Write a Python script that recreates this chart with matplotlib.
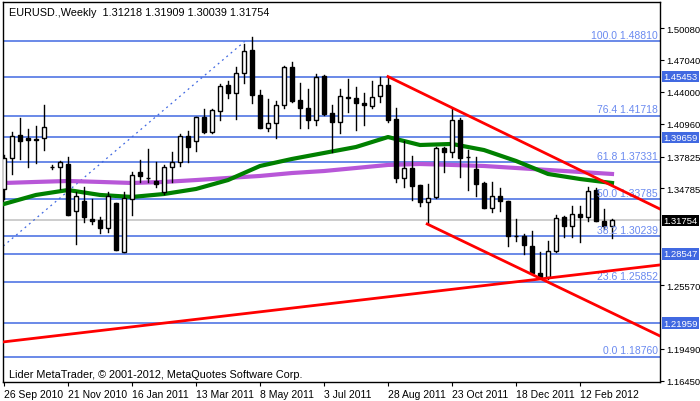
import matplotlib
matplotlib.use("Agg")
import matplotlib.pyplot as plt
from matplotlib.patches import Rectangle

plt.rcParams['font.family'] = ['Liberation Sans', 'DejaVu Sans']

opens  = [1.3474,1.3769,1.3988,1.3959,1.3950,1.3959,1.3684,1.3684,1.3712,1.3265,1.3360,1.3188,1.3179,1.3102,1.3341,1.2874,1.3379,1.3636,1.3579,1.3550,
          1.3446,1.3684,1.3731,1.3978,1.3931,1.4159,1.4017,1.4217,1.4465,1.4388,1.4579,1.4798,1.4369,1.4055,1.4102,1.4274,1.4636,1.4322,1.4245,1.4131,
          1.4551,1.4198,1.4112,1.4350,1.4341,1.4293,1.4264,1.4360,1.4465,1.4140,1.3579,1.3674,1.3512,1.3350,1.3398,1.3865,1.3826,1.4131,1.3779,1.3665,
          1.3531,1.3293,1.3408,1.3360,1.3026,1.3026,1.2931,1.2673,1.2635,1.2883,1.3207,1.3121,1.3236,1.3207,1.3465,1.3169,1.31218]
highs  = [1.3798,1.4017,1.4150,1.4045,1.4074,1.4274,1.3703,1.3741,1.3779,1.3446,1.3493,1.3379,1.3207,1.3446,1.3341,1.3446,1.3636,1.3750,1.3855,1.3731,
          1.3703,1.3826,1.3998,1.4026,1.4159,1.4236,1.4236,1.4474,1.4503,1.4636,1.4856,1.4922,1.4417,1.4331,1.4312,1.4646,1.4684,1.4484,1.4427,1.4570,
          1.4560,1.4274,1.4427,1.4522,1.4446,1.4388,1.4503,1.4545,1.4531,1.4245,1.3931,1.3788,1.3512,1.3522,1.3874,1.3874,1.4236,1.4150,1.3845,1.3779,
          1.3541,1.3541,1.3484,1.3360,1.3188,1.3045,1.3074,1.2874,1.2978,1.3226,1.3217,1.3312,1.3312,1.3493,1.3484,1.3284,1.31909]
lows   = [1.3379,1.3617,1.3760,1.3684,1.3722,1.3845,1.3665,1.3474,1.3226,1.2950,1.3155,1.3140,1.3055,1.3064,1.2893,1.2874,1.3226,1.3541,1.3541,1.3493,
          1.3426,1.3541,1.3693,1.3731,1.3836,1.4007,1.4007,1.4131,1.4341,1.4140,1.4484,1.4293,1.4055,1.4026,1.3959,1.4245,1.4302,1.4055,1.4055,1.4083,
          1.4179,1.3826,1.4007,1.4207,1.4036,1.4083,1.4245,1.4302,1.4112,1.3541,1.3493,1.3369,1.3312,1.3140,1.3388,1.3636,1.3779,1.3588,1.3464,1.3407,
          1.3293,1.3255,1.3265,1.2931,1.2978,1.2855,1.2673,1.2635,1.2616,1.2874,1.3017,1.3017,1.2969,1.3169,1.3169,1.3093,1.30039]
closes = [1.3769,1.3978,1.3931,1.3940,1.3945,1.4064,1.3686,1.3731,1.3226,1.3408,1.3207,1.3169,1.3102,1.3408,1.2893,1.3388,1.3607,1.3598,1.3581,1.3522,
          1.3684,1.3731,1.3978,1.3874,1.4159,1.4017,1.4226,1.4455,1.4388,1.4579,1.4789,1.4369,1.4055,1.4102,1.4274,1.4636,1.4312,1.4245,1.4131,1.4541,
          1.4188,1.4112,1.4360,1.4341,1.4293,1.4274,1.4350,1.4465,1.4131,1.3579,1.3674,1.3503,1.3350,1.3388,1.3865,1.3826,1.4131,1.3769,1.3777,1.3522,
          1.3293,1.3408,1.3360,1.3026,1.3024,1.2940,1.2673,1.2635,1.2883,1.3198,1.3121,1.3236,1.3207,1.3455,1.3169,1.3121,1.31754]

ma_idx = list(range(0, 77, 4))
ma_fast = [1.3331,1.3417,1.3464,1.3417,1.3398,1.3426,1.3474,1.3559,1.3693,1.3760,1.3817,1.3874,1.3969,1.3893,1.3903,1.3845,1.3741,1.3617,1.3569,1.3531]
ma_slow = [1.3531,1.3541,1.3550,1.3541,1.3531,1.3541,1.3559,1.3579,1.3598,1.3626,1.3645,1.3674,1.3703,1.3712,1.3703,1.3693,1.3674,1.3655,1.3636,1.3617]

fib_pct = ["100.0", "76.4", "61.8", "50.0", "38.2", "23.6", "0.0"]
fib_val = [1.48810, 1.41718, 1.37331, 1.33785, 1.30239, 1.25852, 1.18760]
hlines = [1.45453, 1.39659, 1.28547, 1.21959]
current = 1.31754
yticks = [1.50080, 1.47040, 1.44000, 1.40960, 1.37825, 1.34785, 1.25570, 1.19490, 1.16450]
date_idx = [0, 8, 16, 24, 32, 40, 48, 56, 64, 72]
date_lbl = ["26 Sep 2010", "21 Nov 2010", "16 Jan 2011", "13 Mar 2011", "8 May 2011",
            "3 Jul 2011", "28 Aug 2011", "23 Oct 2011", "18 Dec 2011", "12 Feb 2012"]

trend_down = ([48, 82], [1.4545, 1.3283])
trend_chan = ([52.9, 82], [1.3140, 1.2073])
trend_up = ([-0.125, 82], [1.2016, 1.2750])
fib_line = ([-16.4, 30.1], [1.1876, 1.4881])

W, H = 700, 402
fig = plt.figure(figsize=(7, 4.02), dpi=100)
ax = fig.add_axes([3/W, 1-383/H, 657/W, 380/H])
ax.set_xlim(-0.125, 82)
ax.set_ylim(1.16344, 1.52558)

blue = "#4169e1"
for v in fib_val + hlines:
    ax.axhline(v, color=blue, lw=1.1, zorder=1)
ax.axhline(current, color="#c0c0c0", lw=1.1, zorder=1)
for p, v in zip(fib_pct, fib_val):
    ax.text(81.7, v + 0.0012, f"{p} {v:.5f}", ha="right", va="bottom", fontsize=7.5, color="#6a8af0", zorder=5)

ax.plot(*fib_line, color=blue, lw=0.9, ls=(0, (1.5, 3)), zorder=2)
ax.plot(ma_idx, ma_slow, color="#b857d8", lw=3, zorder=2)
ax.plot(ma_idx, ma_fast, color="#008000", lw=3, zorder=3)

for i, (o, h, l, c) in enumerate(zip(opens, highs, lows, closes)):
    ax.plot([i, i], [l, h], color="black", lw=1, zorder=4)
    lo, hi = min(o, c), max(o, c)
    ax.add_patch(Rectangle((i - 0.28, lo), 0.56, max(hi - lo, 0.0003),
                           facecolor="white" if c >= o else "black",
                           edgecolor="black", lw=1, zorder=4.5))

for xs, ys in (trend_down, trend_chan, trend_up):
    ax.plot(xs, ys, color="#ff0000", lw=2, zorder=6)

ax.yaxis.tick_right()
ax.set_yticks(yticks)
ax.set_yticklabels([f"{v:.5f}" for v in yticks], fontsize=6.8)
ax.tick_params(axis="y", length=3, pad=1.5)
ax.set_xticks(date_idx)
ax.set_xticklabels(date_lbl, fontsize=7.5, ha="left")
ax.tick_params(axis="x", length=3, pad=2)

for v in hlines:
    ax.text(82.45, v, f"{v:.5f}", ha="left", va="center", fontsize=6.8, color="white",
            bbox=dict(boxstyle="square,pad=0.12", fc=blue, ec="none"), zorder=7, clip_on=False)
ax.text(82.45, current, f"{current:.5f}", ha="left", va="center", fontsize=6.8, color="white",
        bbox=dict(boxstyle="square,pad=0.12", fc="black", ec="none"), zorder=7, clip_on=False)

ax.text(0.6, 1.5205, "EURUSD.,Weekly  1.31218 1.31909 1.30039 1.31754", fontsize=7.8, va="top", ha="left")
ax.text(0.6, 1.1660, "Lider MetaTrader, © 2001-2012, MetaQuotes Software Corp.", fontsize=7.8, va="bottom", ha="left")

for s in ax.spines.values():
    s.set_linewidth(1)
fig.savefig("out.png", dpi=100)
